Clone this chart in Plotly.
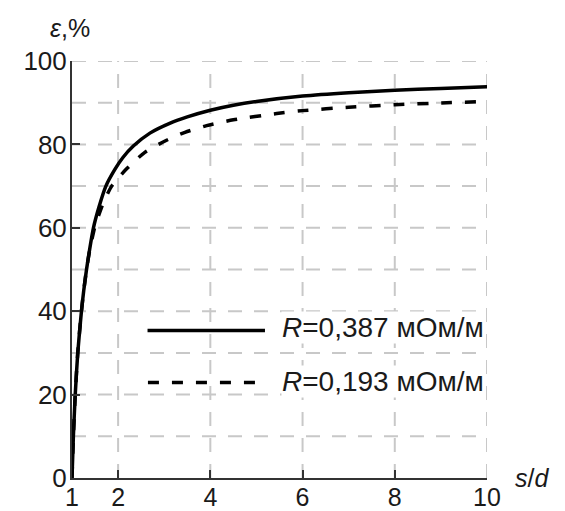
import plotly.graph_objects as go

# s/d values and efficiency (%) for the two resistances
sd_solid = [1.0, 1.03, 1.07, 1.125, 1.205, 1.255, 1.315, 1.385, 1.465, 1.585, 1.735, 1.93, 2.1, 2.33, 2.69, 3.13, 3.5, 4.0, 4.5, 5.0, 6.0, 7.0, 8.0, 9.0, 10.0]
eps_solid = [0, 10, 20, 30, 40, 45, 50, 55, 60, 65, 70, 74.0, 76.8, 79.6, 82.7, 85.1, 86.6, 88.2, 89.4, 90.3, 91.6, 92.4, 93.0, 93.4, 93.8]

sd_dash = [1.0, 1.03, 1.07, 1.125, 1.205, 1.255, 1.315, 1.39, 1.49, 1.58, 1.68, 1.86, 2.19, 2.58, 3.05, 3.45, 3.92, 4.5, 5.44, 6.0, 7.0, 8.0, 9.0, 10.0]
eps_dash = [0, 10, 20, 30, 40, 45, 50, 55, 60, 63, 66, 70, 74.2, 78.1, 81.0, 82.9, 84.5, 85.9, 87.4, 88.1, 88.9, 89.5, 89.95, 90.3]

series_names = ["<i>R</i>=0,387 мОм/м", "<i>R</i>=0,193 мОм/м"]

x_ticks = [1, 2, 4, 6, 8, 10]
y_ticks = [0, 20, 40, 60, 80, 100]

FONT = "Liberation Sans, Arial, sans-serif"
TXT = "#1a1a1a"
GRID = "#c8c8c8"
AX = "#333333"

fig = go.Figure()
fig.add_trace(go.Scatter(x=sd_solid, y=eps_solid, mode="lines", name=series_names[0],
                         line=dict(color="black", width=3.5, shape="spline", smoothing=0.6),
                         showlegend=False))
fig.add_trace(go.Scatter(x=sd_dash, y=eps_dash, mode="lines", name=series_names[1],
                         line=dict(color="black", width=3.5, shape="spline", smoothing=0.6, dash="11px,13px"),
                         showlegend=False))

fig.update_xaxes(range=[1, 10], tickvals=x_ticks, ticktext=[str(v) for v in x_ticks],
                 showgrid=False, zeroline=False,
                 showline=True, linecolor=AX, linewidth=2,
                 ticks="inside", ticklen=8, tickwidth=2, tickcolor=AX,
                 ticklabelstandoff=-4,
                 tickfont=dict(family=FONT, size=25, color=TXT))
fig.update_yaxes(range=[0, 100], tickvals=y_ticks,
                 showgrid=False, zeroline=False,
                 showline=True, linecolor=AX, linewidth=2,
                 ticks="inside", ticklen=8, tickwidth=2, tickcolor=AX,
                 ticklabelstandoff=-2,
                 tickfont=dict(family=FONT, size=26, color=TXT))

shapes = []
for xv in [2, 4, 6, 8, 10]:
    shapes.append(dict(type="line", xref="x", yref="paper", x0=xv, x1=xv, y0=0, y1=1,
                       line=dict(color=GRID, width=2, dash="14px,12px"), layer="below"))
for yv in range(10, 101, 10):
    shapes.append(dict(type="line", xref="paper", yref="y", x0=0, x1=1, y0=yv, y1=yv,
                       line=dict(color=GRID, width=2, dash="14px,12px"), layer="below"))

# legend keys
shapes.append(dict(type="line", xref="paper", yref="paper", x0=0.182, x1=0.465, y0=0.354, y1=0.354,
                   line=dict(color="black", width=3.5)))
shapes.append(dict(type="line", xref="paper", yref="paper", x0=0.183, x1=0.45, y0=0.229, y1=0.229,
                   line=dict(color="black", width=3.5, dash="11px,13px")))

annotations = [
    dict(text=series_names[0], xref="paper", yref="paper", x=0.503, y=0.362, xanchor="left", yanchor="middle",
         showarrow=False, font=dict(family=FONT, size=28, color=TXT), bgcolor="white", borderpad=0),
    dict(text=series_names[1], xref="paper", yref="paper", x=0.503, y=0.232, xanchor="left", yanchor="middle",
         showarrow=False, font=dict(family=FONT, size=28, color=TXT), bgcolor="white", borderpad=0),
    dict(text="<i>ε</i>,%", xref="paper", yref="paper", x=-0.005, y=1.079, xanchor="center", yanchor="middle",
         showarrow=False, font=dict(family=FONT, size=25, color=TXT)),
    dict(text="<i>s</i>/<i>d</i>", xref="paper", yref="paper", x=1.109, y=0.0, xanchor="center", yanchor="middle",
         showarrow=False, font=dict(family=FONT, size=25, color=TXT)),
]

# the page adds an 8px body margin, so the plot area is offset by it
fig.update_layout(width=565, height=511,
                  margin=dict(l=64, r=86, t=53, b=41, autoexpand=False),
                  paper_bgcolor="white", plot_bgcolor="white",
                  shapes=shapes, annotations=annotations, showlegend=False)

fig.write_html("out.html")
